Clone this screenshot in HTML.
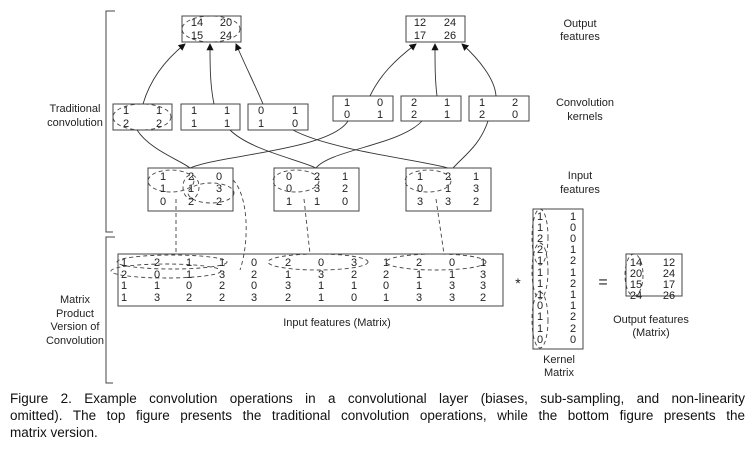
<!DOCTYPE html>
<html><head><meta charset="utf-8"><style>
body{margin:0;background:#fff;width:755px;height:451px;overflow:hidden}
svg{position:absolute;left:0;top:0}
text{font-family:"Liberation Sans",sans-serif;font-size:11px;fill:#222}
.c{text-anchor:middle}
#cap{position:absolute;left:10px;top:390px;width:735px;font-family:"Liberation Sans",sans-serif;font-size:13.5px;line-height:17px;color:#111}
#cap div{text-align:justify;text-align-last:justify;white-space:nowrap}
#cap div.l{text-align-last:left}
</style></head><body>
<svg width="755" height="451" viewBox="0 0 755 451">
<defs><marker id="a" markerWidth="8" markerHeight="8" refX="7" refY="4" orient="auto"><path d="M0,0 L8,4 L0,8z" fill="#111"/></marker></defs>
<g fill="none" stroke="#444" stroke-width="1">
<path d="M115,11 H106 V232 H113"/><path d="M115,237 H106 V383 H113"/>
<rect x="182" y="16" width="59" height="26"/><rect x="406" y="16" width="59" height="26"/>
<rect x="113" y="104" width="59" height="26"/><rect x="181" y="104" width="59" height="26"/><rect x="248" y="104" width="60" height="26"/>
<rect x="333" y="96" width="60" height="25"/><rect x="401" y="96" width="60" height="25"/><rect x="469" y="96" width="60" height="25"/>
<rect x="148" y="168" width="85" height="43"/><rect x="274" y="168" width="85" height="43"/><rect x="406" y="168" width="85" height="43"/>
<rect x="118" y="254" width="385" height="52"/><rect x="533" y="209" width="50" height="140"/><rect x="626" y="254" width="56" height="42"/>
</g>
<g fill="none" stroke="#333" stroke-width="0.9">
<path d="M137,130 C150,150 180,160 190,168"/><path d="M230,130 C250,150 300,160 316,168"/><path d="M293,130 C330,150 420,160 448,168"/>
<path d="M348,121 C330,150 220,155 190,168"/><path d="M422,121 C400,145 330,150 316,168"/><path d="M488,121 C480,145 465,155 453,168"/>
<path d="M143,104 C150,80 165,60 185,44" marker-end="url(#a)"/><path d="M214,104 C210,85 210,65 210,44" marker-end="url(#a)"/><path d="M263,104 C255,85 245,65 236,44" marker-end="url(#a)"/>
<path d="M370,96 C380,75 395,60 416,44" marker-end="url(#a)"/><path d="M437,96 C435,80 435,65 435,44" marker-end="url(#a)"/><path d="M496,96 C495,80 480,60 462,44" marker-end="url(#a)"/>
</g>
<g fill="none" stroke="#444" stroke-width="0.9" stroke-dasharray="4,3">
<ellipse cx="211" cy="29" rx="29" ry="13"/><ellipse cx="142" cy="117" rx="29" ry="13"/>
<ellipse cx="171" cy="181" rx="23" ry="11"/><ellipse cx="191" cy="187" rx="8" ry="12"/><ellipse cx="211" cy="193" rx="23" ry="10"/>
<ellipse cx="296" cy="181" rx="23" ry="11"/><ellipse cx="428" cy="181" rx="23" ry="11"/>
<path d="M233,180 C248,195 250,240 240,270"/>
<path d="M176,199 V254"/><path d="M304,199 L310,254"/><path d="M436,199 L444,254"/>
<ellipse cx="172" cy="262" rx="55" ry="7"/><ellipse cx="166" cy="271" rx="55" ry="7"/><ellipse cx="318" cy="262" rx="50" ry="8"/><ellipse cx="436" cy="262" rx="50" ry="8"/>
<ellipse cx="540" cy="237" rx="8" ry="28"/><ellipse cx="540" cy="271" rx="8" ry="28"/><ellipse cx="540" cy="320" rx="8" ry="28"/>
<ellipse cx="634" cy="275" rx="9" ry="21"/>
</g>
<g class="c">
<text x="197" y="26" class="c">14</text><text x="226" y="26" class="c">20</text><text x="197" y="39" class="c">15</text><text x="226" y="39" class="c">24</text>
<text x="420" y="26" class="c">12</text><text x="450" y="26" class="c">24</text><text x="420" y="39" class="c">17</text><text x="450" y="39" class="c">26</text>
<text x="126" y="114" class="c">1</text><text x="159" y="114" class="c">1</text><text x="126" y="127" class="c">2</text><text x="159" y="127" class="c">2</text>
<text x="194" y="114" class="c">1</text><text x="227" y="114" class="c">1</text><text x="194" y="127" class="c">1</text><text x="227" y="127" class="c">1</text>
<text x="261" y="114" class="c">0</text><text x="295" y="114" class="c">1</text><text x="261" y="127" class="c">1</text><text x="295" y="127" class="c">0</text>
<text x="347" y="106" class="c">1</text><text x="380" y="106" class="c">0</text><text x="347" y="118" class="c">0</text><text x="380" y="118" class="c">1</text>
<text x="414" y="106" class="c">2</text><text x="447" y="106" class="c">1</text><text x="414" y="118" class="c">2</text><text x="447" y="118" class="c">1</text>
<text x="482" y="106" class="c">1</text><text x="515" y="106" class="c">2</text><text x="482" y="118" class="c">2</text><text x="515" y="118" class="c">0</text>
<text x="163" y="180" class="c">1</text><text x="191" y="180" class="c">2</text><text x="219" y="180" class="c">0</text>
<text x="163" y="192" class="c">1</text><text x="191" y="192" class="c">1</text><text x="219" y="192" class="c">3</text>
<text x="163" y="205" class="c">0</text><text x="191" y="205" class="c">2</text><text x="219" y="205" class="c">2</text>
<text x="289" y="180" class="c">0</text><text x="317" y="180" class="c">2</text><text x="345" y="180" class="c">1</text>
<text x="289" y="192" class="c">0</text><text x="317" y="192" class="c">3</text><text x="345" y="192" class="c">2</text>
<text x="289" y="205" class="c">1</text><text x="317" y="205" class="c">1</text><text x="345" y="205" class="c">0</text>
<text x="420" y="180" class="c">1</text><text x="448" y="180" class="c">2</text><text x="476" y="180" class="c">1</text>
<text x="420" y="192" class="c">0</text><text x="448" y="192" class="c">1</text><text x="476" y="192" class="c">3</text>
<text x="420" y="205" class="c">3</text><text x="448" y="205" class="c">3</text><text x="476" y="205" class="c">2</text>
</g>
<g>
<text x="124" y="266" class="c">1</text><text x="157" y="266" class="c">2</text><text x="189" y="266" class="c">1</text><text x="222" y="266" class="c">1</text><text x="254" y="266" class="c">0</text><text x="288" y="266" class="c">2</text><text x="321" y="266" class="c">0</text><text x="354" y="266" class="c">3</text><text x="386" y="266" class="c">1</text><text x="419" y="266" class="c">2</text><text x="452" y="266" class="c">0</text><text x="483" y="266" class="c">1</text>
<text x="124" y="278" class="c">2</text><text x="157" y="278" class="c">0</text><text x="189" y="278" class="c">1</text><text x="222" y="278" class="c">3</text><text x="254" y="278" class="c">2</text><text x="288" y="278" class="c">1</text><text x="321" y="278" class="c">3</text><text x="354" y="278" class="c">2</text><text x="386" y="278" class="c">2</text><text x="419" y="278" class="c">1</text><text x="452" y="278" class="c">1</text><text x="483" y="278" class="c">3</text>
<text x="124" y="289" class="c">1</text><text x="157" y="289" class="c">1</text><text x="189" y="289" class="c">0</text><text x="222" y="289" class="c">2</text><text x="254" y="289" class="c">0</text><text x="288" y="289" class="c">3</text><text x="321" y="289" class="c">1</text><text x="354" y="289" class="c">1</text><text x="386" y="289" class="c">0</text><text x="419" y="289" class="c">1</text><text x="452" y="289" class="c">3</text><text x="483" y="289" class="c">3</text>
<text x="124" y="301" class="c">1</text><text x="157" y="301" class="c">3</text><text x="189" y="301" class="c">2</text><text x="222" y="301" class="c">2</text><text x="254" y="301" class="c">3</text><text x="288" y="301" class="c">2</text><text x="321" y="301" class="c">1</text><text x="354" y="301" class="c">0</text><text x="386" y="301" class="c">1</text><text x="419" y="301" class="c">3</text><text x="452" y="301" class="c">3</text><text x="483" y="301" class="c">2</text>
</g>
<g>
<text x="540" y="220" class="c">1</text><text x="540" y="231" class="c">1</text><text x="540" y="242" class="c">2</text><text x="540" y="253" class="c">2</text><text x="540" y="264" class="c">1</text><text x="540" y="276" class="c">1</text><text x="540" y="287" class="c">1</text><text x="540" y="298" class="c">1</text><text x="540" y="309" class="c">0</text><text x="540" y="320" class="c">1</text><text x="540" y="332" class="c">1</text><text x="540" y="343" class="c">0</text>
<text x="573" y="220" class="c">1</text><text x="573" y="231" class="c">0</text><text x="573" y="242" class="c">0</text><text x="573" y="253" class="c">1</text><text x="573" y="264" class="c">2</text><text x="573" y="276" class="c">1</text><text x="573" y="287" class="c">2</text><text x="573" y="298" class="c">1</text><text x="573" y="309" class="c">1</text><text x="573" y="320" class="c">2</text><text x="573" y="332" class="c">2</text><text x="573" y="343" class="c">0</text>
<text x="636" y="266" class="c">14</text><text x="669" y="266" class="c">12</text><text x="636" y="277" class="c">20</text><text x="669" y="277" class="c">24</text><text x="636" y="288" class="c">15</text><text x="669" y="288" class="c">17</text><text x="636" y="299" class="c">24</text><text x="669" y="299" class="c">26</text>
<text x="518" y="288" class="c" style="font-size:14px">*</text>
<text x="603" y="287" class="c" style="font-size:16px">=</text>
</g>
<g>
<text x="580" y="27" class="c">Output</text><text x="580" y="40" class="c">features</text>
<text x="585" y="106" class="c">Convolution</text><text x="585" y="120" class="c">kernels</text>
<text x="580" y="179" class="c">Input</text><text x="580" y="193" class="c">features</text>
<text x="75" y="112" class="c">Traditional</text><text x="75" y="126" class="c">convolution</text>
<text x="75" y="303" class="c">Matrix</text><text x="75" y="317" class="c">Product</text><text x="75" y="330" class="c">Version of</text><text x="75" y="344" class="c">Convolution</text>
<text x="337" y="326" class="c">Input features (Matrix)</text>
<text x="559" y="363" class="c">Kernel</text><text x="559" y="376" class="c">Matrix</text>
<text x="651" y="323" class="c">Output features</text><text x="651" y="336" class="c">(Matrix)</text>
</g>
</svg>
<div id="cap">
<div>Figure 2. Example convolution operations in a convolutional layer (biases, sub-sampling, and non-linearity</div>
<div>omitted). The top figure presents the traditional convolution operations, while the bottom figure presents the</div>
<div class="l">matrix version.</div>
</div>
</body></html>
